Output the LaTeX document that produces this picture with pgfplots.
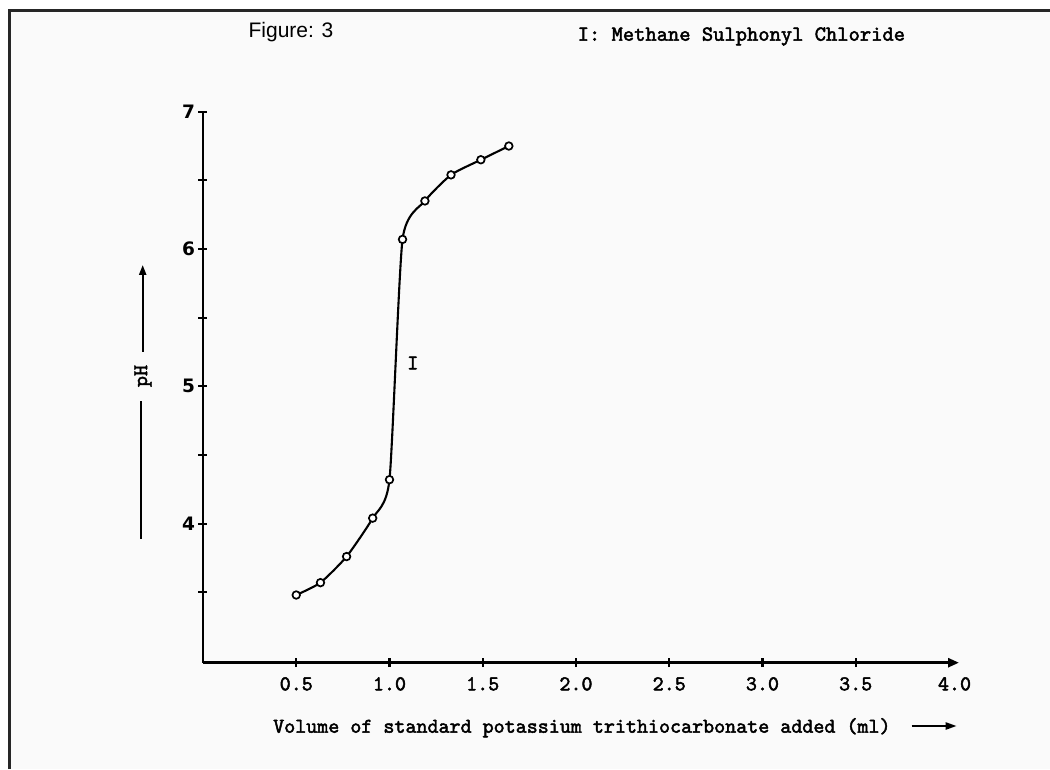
\documentclass[border=0pt]{standalone}
\usepackage{pgfplots}
\pgfplotsset{compat=1.18}
\usepackage{fontspec}
\usetikzlibrary{arrows.meta}
\newfontfamily\sansb{DejaVu Sans}
\newfontfamily\arialf{Liberation Sans}
\newfontfamily\courb{lmmono10-regular}[Extension=.otf, FakeBold=2.2]
\newcommand{\mf}{\courb\fontsize{21}{21}\selectfont}
\begin{document}
\begin{tikzpicture}[x=1pt,y=1pt]
\useasboundingbox (-203,-106.3) rectangle (847,662.7);
\fill[white] (-203,-106.3) rectangle (847,662.7);
\fill[gray!4] (-193,-106.3) rectangle (847,651.7);
\draw[line width=3pt, black!85] (-193,-106.3) -- (-193,651.7) -- (847,651.7);
\begin{axis}[
  at={(0,0)}, anchor=south west,
  scale only axis, width=756pt, height=551pt,
  xmin=0, xmax=4.054, ymin=2.987, ymax=7,
  clip=false,
  axis lines=left,
  x axis line style={line width=2.6pt, -{Triangle[length=11pt,width=9pt]}},
  y axis line style={line width=2.6pt, -},
  tick align=center, major tick length=9pt,
  tick style={line width=2.2pt, black},
  xtick={0.5,1,1.5,2,2.5,3,3.5},
  /pgf/number format/fixed, /pgf/number format/precision=1,
  /pgf/number format/fixed zerofill, /pgf/number format/assume math mode=true,
  xticklabel style={font=\mf, yshift=-6.5pt},
  extra x ticks={4.03}, extra x tick labels={4.0},
  extra x tick style={tick style={draw=none}},
  ytick={3.5,4,4.5,5,5.5,6,6.5,7}, yticklabels={,4,,5,,6,,7},
  yticklabel style={font=\sansb\bfseries\fontsize{18.5}{18.5}\selectfont},
]
\addplot[line width=2.1pt, black, smooth, tension=0.35, mark=*, mark size=3.8pt,
  mark options={fill=white, line width=1.7pt}] table {
x y
0.50 3.48
0.63 3.57
0.77 3.76
0.91 4.04
1.00 4.32
1.07 6.07
1.19 6.35
1.33 6.54
1.49 6.65
1.64 6.75
};
\node[font=\mf] at (axis cs:1.125,5.17) {I};
\end{axis}
\node[font=\arialf\fontsize{21}{21}\selectfont, anchor=base] at (88,624.7) {Figure: 3};
\node[font=\courb\fontsize{21.5}{21.5}\selectfont, anchor=base] at (538.4,622) {I: Methane Sulphonyl Chloride};
\node[font=\mf, anchor=base west, inner sep=0] at (70,-70) {Volume of standard potassium trithiocarbonate added (ml)};
\draw[line width=2.2pt, -{Triangle[length=11pt,width=7pt]}] (708.7,-63.3) -- (753.7,-63.3);
\draw[line width=2.2pt] (-62,123.7) -- (-62,262);
\draw[line width=2.2pt, -{Triangle[length=10pt,width=7pt]}] (-60.3,311) -- (-60.3,397.7);
\node[font=\mf, rotate=90] at (-60,286.7) {pH};
\end{tikzpicture}
\end{document}
